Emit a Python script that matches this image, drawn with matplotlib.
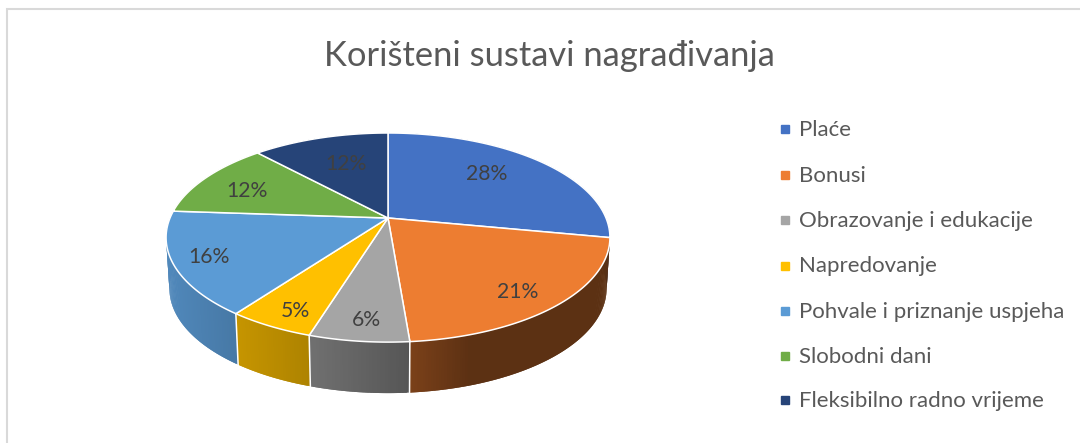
import numpy as np
import matplotlib
matplotlib.use('Agg')
import matplotlib.pyplot as plt
from matplotlib.collections import PolyCollection

plt.rcParams['font.family'] = ['Lato', 'DejaVu Sans']

# Podaci
title = 'Korišteni sustavi nagrađivanja'
categories = ['Plaće', 'Bonusi', 'Obrazovanje i edukacije', 'Napredovanje',
              'Pohvale i priznanje uspjeha', 'Slobodni dani', 'Fleksibilno radno vrijeme']
values = [28, 20.7, 6.1, 5.3, 16, 12, 11.9]
colors = ['#4472C4', '#ED7D31', '#A5A5A5', '#FFC000', '#5B9BD5', '#70AD47', '#264478']

# Geometrija (pikseli slike)
cx, cy = 388, 218
rx, ry = 218, 100.9
persp = -0.187
depth = 51
base_shrink = 0.985


def project(frac, r=1.0, shrink=1.0, dy=0.0):
    # frac = udio kruga od vrha, u smjeru kazaljke
    t = 2 * np.pi * np.asarray(frac)
    u = r * np.sin(t)
    v = -r * np.cos(t)
    den = 1 + persp * v
    return cx + shrink * rx * u / den, cy + ry * v / den + dy


def side_shade(x):
    return np.interp(x, [165, 240, 310, 410, 470, 610], [0.88, 0.77, 0.68, 0.52, 0.39, 0.39])


fig = plt.figure(figsize=(10.8, 4.43), dpi=100)
ax = fig.add_axes([0, 0, 1, 1])
ax.set_xlim(0, 1080)
ax.set_ylim(443, 0)
ax.axis('off')

# okvir
ax.plot([7, 7, 1080], [443, 9, 9], color='#D9D9D9', lw=1.5, solid_joinstyle='miter')

edges = np.cumsum([0] + values) / sum(values)

# bocne stranice: trake se preklapaju da se ne vide pruge
for i, col in enumerate(colors):
    fr = np.linspace(edges[i], edges[i + 1], int(values[i] * 6) + 3)
    xt, yt = project(fr)
    xb, yb = project(fr, shrink=base_shrink, dy=depth)
    polys, cols = [], []
    base = np.array(matplotlib.colors.to_rgb(col))
    for k in range(len(fr) - 1):
        n = min(k + 2, len(fr) - 1)
        polys.append([(xt[k], yt[k]), (xt[n], yt[n]), (xb[n], yb[n]), (xb[k], yb[k])])
        cols.append(base * side_shade((xt[k] + xt[k + 1]) / 2))
    ax.add_collection(PolyCollection(polys, facecolors=cols, edgecolors='none'))

# bijele crte izmedu stranica (samo prednje)
for e in edges[:-1]:
    if -np.cos(2 * np.pi * e) > 0.5:
        xt, yt = project(e)
        xb, yb = project(e, shrink=base_shrink, dy=depth)
        ax.plot([xt, xb], [yt, yb], color='white', lw=1.1)

# gornja ploha
for i, col in enumerate(colors):
    fr = np.linspace(edges[i], edges[i + 1], int(values[i] * 6) + 3)
    xt, yt = project(fr)
    ax.fill(np.r_[cx, xt], np.r_[cy, yt], facecolor=col, edgecolor='white', lw=1.1, joinstyle='round')

# postoci
label_pos = [(487, 174), (518, 292), (366, 320), (295, 311), (209, 257), (247, 191), (346, 164)]
for v, (lx, ly) in zip(values, label_pos):
    ax.text(lx, ly, f'{v:.0f}%', color='#404040', fontsize=15.2, ha='center', va='center')

ax.text(549, 56, title, color='#595959', fontsize=24.8, ha='center', va='center')

# legenda
legend_y = [130, 175.5, 221, 266.5, 312, 357, 401]
for name, col, ly in zip(categories, colors, legend_y):
    ax.plot([785], [ly - 1], marker='s', ms=5.2, color=col, ls='none')
    ax.text(799, ly, name, color='#595959', fontsize=16, ha='left', va='center')

fig.savefig('out.png', dpi=100)
